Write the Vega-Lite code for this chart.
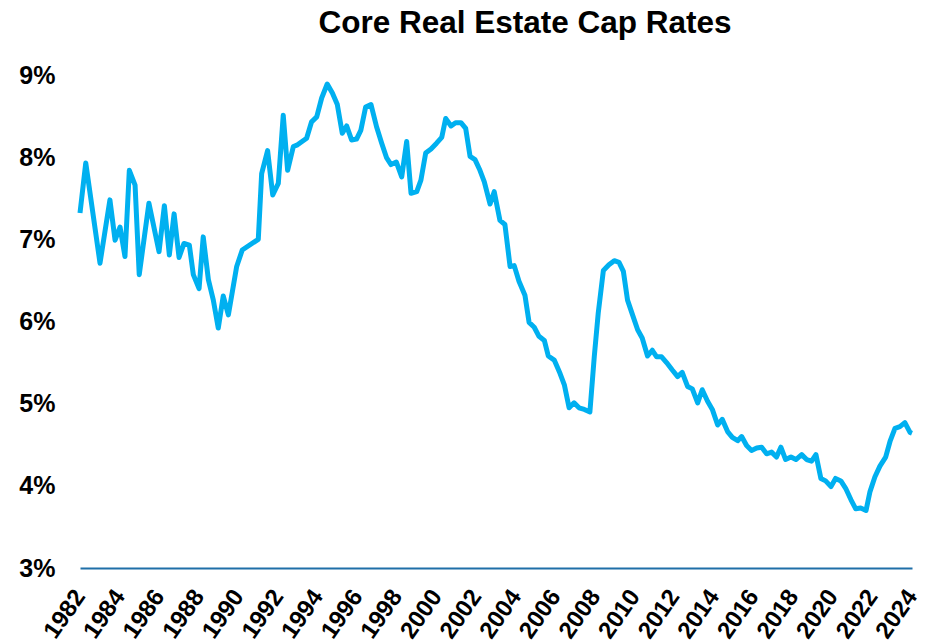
{
  "$schema": "https://vega.github.io/schema/vega-lite/v6.json",
  "width": 832,
  "height": 493,
  "autosize": "none",
  "padding": {"left": 80, "top": 75, "right": 16, "bottom": 75},
  "background": "white",
  "title": {
    "text": "Core Real Estate Cap Rates",
    "font": "Liberation Sans",
    "fontSize": 31.5,
    "fontWeight": "bold",
    "color": "black",
    "anchor": "middle",
    "frame": "group",
    "dx": 29,
    "offset": 24
  },
  "config": {"view": {"stroke": null}},
  "data": {
    "values": [
      {"t": 1982.0, "r": 7.32}, {"t": 1982.29, "r": 7.93}, {"t": 1983.01, "r": 6.71}, {"t": 1983.51, "r": 7.48},
      {"t": 1983.77, "r": 6.99}, {"t": 1984.02, "r": 7.15}, {"t": 1984.27, "r": 6.79}, {"t": 1984.49, "r": 7.84},
      {"t": 1984.78, "r": 7.66}, {"t": 1984.99, "r": 6.57}, {"t": 1985.48, "r": 7.44}, {"t": 1985.99, "r": 6.85},
      {"t": 1986.26, "r": 7.41}, {"t": 1986.51, "r": 6.81}, {"t": 1986.75, "r": 7.31}, {"t": 1987.0, "r": 6.78},
      {"t": 1987.25, "r": 6.95}, {"t": 1987.52, "r": 6.93}, {"t": 1987.72, "r": 6.57}, {"t": 1988.01, "r": 6.4},
      {"t": 1988.22, "r": 7.03}, {"t": 1988.48, "r": 6.51}, {"t": 1988.73, "r": 6.26}, {"t": 1988.98, "r": 5.92},
      {"t": 1989.23, "r": 6.31}, {"t": 1989.49, "r": 6.08}, {"t": 1989.91, "r": 6.67}, {"t": 1990.19, "r": 6.87},
      {"t": 1991.0, "r": 7.0}, {"t": 1991.17, "r": 7.8}, {"t": 1991.47, "r": 8.08}, {"t": 1991.73, "r": 7.54},
      {"t": 1992.01, "r": 7.68}, {"t": 1992.26, "r": 8.51}, {"t": 1992.48, "r": 7.84}, {"t": 1992.77, "r": 8.13},
      {"t": 1992.98, "r": 8.15}, {"t": 1993.44, "r": 8.23}, {"t": 1993.69, "r": 8.43}, {"t": 1993.95, "r": 8.49},
      {"t": 1994.2, "r": 8.72}, {"t": 1994.48, "r": 8.89}, {"t": 1994.74, "r": 8.78}, {"t": 1994.99, "r": 8.64},
      {"t": 1995.24, "r": 8.29}, {"t": 1995.46, "r": 8.38}, {"t": 1995.71, "r": 8.21}, {"t": 1995.96, "r": 8.22},
      {"t": 1996.18, "r": 8.33}, {"t": 1996.42, "r": 8.61}, {"t": 1996.69, "r": 8.64}, {"t": 1996.97, "r": 8.37},
      {"t": 1997.23, "r": 8.17}, {"t": 1997.48, "r": 7.99}, {"t": 1997.7, "r": 7.91}, {"t": 1997.97, "r": 7.94},
      {"t": 1998.24, "r": 7.76}, {"t": 1998.49, "r": 8.19}, {"t": 1998.71, "r": 7.56}, {"t": 1999.0, "r": 7.58},
      {"t": 1999.21, "r": 7.72}, {"t": 1999.45, "r": 8.05}, {"t": 1999.72, "r": 8.1}, {"t": 2000.0, "r": 8.17},
      {"t": 2000.26, "r": 8.24}, {"t": 2000.46, "r": 8.47}, {"t": 2000.73, "r": 8.38}, {"t": 2000.96, "r": 8.42},
      {"t": 2001.23, "r": 8.42}, {"t": 2001.47, "r": 8.35}, {"t": 2001.69, "r": 8.01}, {"t": 2001.94, "r": 7.97},
      {"t": 2002.19, "r": 7.84}, {"t": 2002.41, "r": 7.7}, {"t": 2002.7, "r": 7.43}, {"t": 2002.91, "r": 7.58},
      {"t": 2003.2, "r": 7.23}, {"t": 2003.45, "r": 7.18}, {"t": 2003.71, "r": 6.67}, {"t": 2003.92, "r": 6.68},
      {"t": 2004.16, "r": 6.49}, {"t": 2004.46, "r": 6.32}, {"t": 2004.67, "r": 5.99}, {"t": 2004.93, "r": 5.93},
      {"t": 2005.17, "r": 5.82}, {"t": 2005.44, "r": 5.77}, {"t": 2005.64, "r": 5.58}, {"t": 2005.94, "r": 5.53},
      {"t": 2006.23, "r": 5.37}, {"t": 2006.45, "r": 5.23}, {"t": 2006.69, "r": 4.95}, {"t": 2006.94, "r": 5.01},
      {"t": 2007.19, "r": 4.95}, {"t": 2007.46, "r": 4.93}, {"t": 2007.74, "r": 4.9}, {"t": 2007.96, "r": 5.57},
      {"t": 2008.16, "r": 6.1}, {"t": 2008.42, "r": 6.62}, {"t": 2008.7, "r": 6.69}, {"t": 2008.97, "r": 6.74},
      {"t": 2009.21, "r": 6.72}, {"t": 2009.43, "r": 6.61}, {"t": 2009.64, "r": 6.26}, {"t": 2009.88, "r": 6.09},
      {"t": 2010.15, "r": 5.9}, {"t": 2010.38, "r": 5.8}, {"t": 2010.65, "r": 5.58}, {"t": 2010.89, "r": 5.65},
      {"t": 2011.11, "r": 5.57}, {"t": 2011.36, "r": 5.57}, {"t": 2011.61, "r": 5.5}, {"t": 2011.9, "r": 5.41},
      {"t": 2012.17, "r": 5.33}, {"t": 2012.4, "r": 5.38}, {"t": 2012.67, "r": 5.21}, {"t": 2012.91, "r": 5.18},
      {"t": 2013.18, "r": 5.01}, {"t": 2013.41, "r": 5.17}, {"t": 2013.68, "r": 5.03}, {"t": 2013.92, "r": 4.93},
      {"t": 2014.19, "r": 4.74}, {"t": 2014.42, "r": 4.81}, {"t": 2014.69, "r": 4.66}, {"t": 2014.93, "r": 4.59},
      {"t": 2015.2, "r": 4.55}, {"t": 2015.4, "r": 4.6}, {"t": 2015.65, "r": 4.49}, {"t": 2015.9, "r": 4.43},
      {"t": 2016.16, "r": 4.46}, {"t": 2016.41, "r": 4.47}, {"t": 2016.66, "r": 4.39}, {"t": 2016.91, "r": 4.41},
      {"t": 2017.16, "r": 4.35}, {"t": 2017.38, "r": 4.47}, {"t": 2017.62, "r": 4.32}, {"t": 2017.89, "r": 4.35},
      {"t": 2018.14, "r": 4.32}, {"t": 2018.43, "r": 4.38}, {"t": 2018.68, "r": 4.32}, {"t": 2018.93, "r": 4.3},
      {"t": 2019.15, "r": 4.38}, {"t": 2019.4, "r": 4.09}, {"t": 2019.64, "r": 4.06}, {"t": 2019.91, "r": 3.99},
      {"t": 2020.14, "r": 4.09}, {"t": 2020.41, "r": 4.06}, {"t": 2020.65, "r": 3.97}, {"t": 2020.92, "r": 3.83},
      {"t": 2021.16, "r": 3.72}, {"t": 2021.41, "r": 3.73}, {"t": 2021.68, "r": 3.7}, {"t": 2021.88, "r": 3.93},
      {"t": 2022.13, "r": 4.11}, {"t": 2022.38, "r": 4.24}, {"t": 2022.67, "r": 4.35}, {"t": 2022.89, "r": 4.54},
      {"t": 2023.14, "r": 4.7}, {"t": 2023.39, "r": 4.72}, {"t": 2023.64, "r": 4.77}, {"t": 2023.9, "r": 4.65},
      {"t": 2024.0, "r": 4.64}
    ]
  },
  "mark": {"type": "line", "color": "#00B0F0", "strokeWidth": 5, "strokeJoin": "round", "strokeCap": "butt"},
  "encoding": {
    "x": {
      "field": "t",
      "type": "quantitative",
      "scale": {"domain": [1982, 2024], "nice": false, "zero": false},
      "axis": {
        "title": null,
        "values": [1982,1984,1986,1988,1990,1992,1994,1996,1998,2000,2002,2004,2006,2008,2010,2012,2014,2016,2018,2020,2022,2024],
        "format": "d",
        "grid": false,
        "ticks": false,
        "domain": true,
        "domainColor": "#1F6FA8",
        "domainWidth": 2,
        "labelAngle": -55,
        "labelAlign": "right",
        "labelBaseline": "middle",
        "labelPadding": 24,
        "labelFont": "Liberation Sans",
        "labelFontSize": 24,
        "labelFontWeight": "bold",
        "labelColor": "black",
        "labelOverlap": false,
        "labelFlush": false
      }
    },
    "y": {
      "field": "r",
      "type": "quantitative",
      "scale": {"domain": [3, 9], "nice": false, "zero": false},
      "axis": {
        "title": null,
        "values": [3,4,5,6,7,8,9],
        "labelExpr": "datum.value + '%'",
        "grid": false,
        "ticks": false,
        "domain": false,
        "labelPadding": 25,
        "labelFont": "Liberation Sans",
        "labelFontSize": 25,
        "labelFontWeight": "bold",
        "labelColor": "black",
        "labelFlush": false,
        "labelOverlap": false
      }
    }
  }
}
